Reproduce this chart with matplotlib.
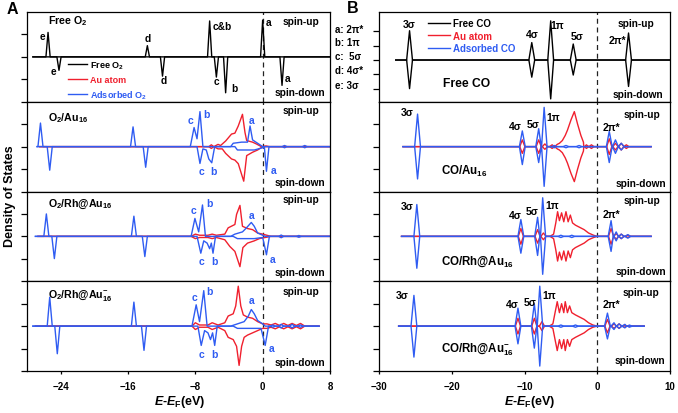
import matplotlib
matplotlib.use('Agg')
import matplotlib.pyplot as plt
from matplotlib.lines import Line2D

plt.rcParams['font.family'] = ['Liberation Sans', 'DejaVu Sans']
plt.rcParams['font.weight'] = 'bold'
plt.rcParams['mathtext.fontset'] = 'custom'
plt.rcParams['mathtext.rm'] = 'Liberation Sans:bold'
plt.rcParams['mathtext.it'] = 'Liberation Sans:italic:bold'
plt.rcParams['mathtext.bf'] = 'Liberation Sans:bold'
plt.rcParams['mathtext.default'] = 'regular'

BLUE = '#2f5cf2'
RED = '#f0202e'

# ---------- A : O2 ----------  sharp peaks as (E, DOS), valence band as points
o2_free_up = [(-25.5, 1.09), (-13.7, 0.5), (-6.3, 1.6), (0.0, 1.64)]
o2_free_dn = [(-24.2, -0.6), (-11.9, -0.86), (-5.5, -0.9), (-4.4, -1.6), (2.3, -1.27)]

# O2/Au16
a2_blue_up_pk = [(-26.4, 1.05), (-15.4, 0.88), (2.6, 0.05), (5.0, 0.05)]
a2_blue_up = [(-8.6, 0), (-8.15, 0.85), (-7.8, 0.35), (-7.45, 1.56), (-7.1, 0), (-3.8, 0), (-3.5, 0.15),
              (-2.5, 0.2), (-1.8, 0.2), (-1.5, 0.92), (-1.2, 0.3), (-0.6, 0.15), (0.0, 0)]
a2_blue_dn_pk = [(-25.3, -1.05), (-13.9, -0.92), (2.6, -0.05), (5.0, -0.05)]
a2_blue_dn = [(-7.8, 0), (-7.45, -0.75), (-7.1, -0.1), (-6.7, -0.15), (-6.4, -0.55), (-6.05, -0.72),
              (-5.7, 0), (-3.3, 0), (-3.0, -0.15), (-1.0, -0.15), (0.0, -0.05), (0.2, 0), (0.45, -1.1), (0.75, 0)]
a2_red_up = [(-6.4, 0), (-6.1, 0.08), (-5.8, 0), (-5.3, 0.1), (-5.0, 0.05), (-4.4, 0.25), (-3.7, 0.56),
             (-3.3, 0.6), (-2.9, 0.92), (-2.4, 1.44), (-2.1, 0.63), (-1.9, 0.27), (-1.2, 0.2), (-0.75, 0.12),
             (-0.15, 0), (0.4, 0.03), (0.8, 0)]
a2_red_dn = [(-6.4, 0), (-6.1, -0.08), (-5.8, 0), (-5.3, -0.1), (-4.8, -0.1), (-4.4, -0.3), (-3.7, -0.55),
             (-3.3, -0.6), (-2.9, -0.76), (-2.25, -1.54), (-1.9, -0.4), (-1.2, -0.25), (-0.6, -0.15), (0.0, 0)]

# O2/Rh@Au16
a3_blue_up_pk = [(-25.7, 1.0), (-15.3, 0.9), (2.2, 0.06), (4.3, 0.04)]
a3_blue_up = [(-8.5, 0), (-8.05, 0.8), (-7.6, 0.2), (-7.15, 1.4), (-6.8, 0), (-3.8, 0), (-3.3, 0.1),
              (-2.4, 0.2), (-2.0, 0.35), (-1.35, 0.62), (-1.0, 0.45), (-0.6, 0.15), (0.0, 0.05), (0.3, 0)]
a3_blue_dn_pk = [(-24.75, -0.99), (-14.0, -0.9), (2.2, -0.06), (4.3, -0.04)]
a3_blue_dn = [(-7.8, 0), (-7.35, -0.75), (-7.0, -0.2), (-6.6, -0.3), (-6.3, -0.55), (-6.1, -0.3),
              (-5.9, -0.75), (-5.6, 0), (-3.5, 0), (-3.0, -0.1), (-1.0, -0.1), (0.0, -0.05), (0.15, -0.3),
              (0.45, -0.82), (0.8, 0)]
a3_red_up = [(-8.5, 0), (-8.0, 0.1), (-7.5, 0.05), (-6.5, 0.05), (-6.0, 0.1), (-5.5, 0.05), (-4.5, 0.1),
             (-4.1, 0.38), (-3.3, 0.53), (-3.1, 0.98), (-2.7, 1.38), (-2.4, 0.45), (-1.8, 0.35), (-1.2, 0.3),
             (-0.6, 0.15), (0.0, 0.1), (0.5, 0.05), (1.0, 0)]
a3_red_dn = [(-8.5, 0), (-8.0, -0.1), (-7.5, -0.05), (-6.5, -0.05), (-6.0, -0.1), (-5.5, -0.05), (-4.5, -0.15),
             (-3.9, -0.45), (-3.3, -0.67), (-2.7, -1.35), (-2.35, -0.5), (-1.8, -0.3), (-1.0, -0.2),
             (-0.4, -0.1), (0.3, -0.05), (1.0, 0)]

# O2/Rh@Au16-
a4_blue_up_pk = [(-25.3, 1.29), (-15.3, 1.07), (1.2, 0.05), (2.2, 0.08), (3.5, 0.08), (4.5, 0.05)]
a4_blue_up = [(-8.4, 0), (-7.9, 0.95), (-7.5, 0.2), (-7.0, 1.58), (-6.6, 0), (-3.8, 0), (-3.0, 0.1),
              (-2.2, 0.2), (-1.7, 0.45), (-1.35, 0.74), (-1.0, 0.55), (-0.6, 0.25), (0.0, 0.1), (0.3, 0)]
a4_blue_dn_pk = [(-24.4, -1.23), (-14.1, -1.08), (1.2, -0.05), (2.2, -0.08), (3.5, -0.08), (4.5, -0.05)]
a4_blue_dn = [(-7.7, 0), (-7.3, -0.86), (-6.9, -0.2), (-6.5, -0.3), (-6.2, -0.6), (-5.95, -0.3),
              (-5.7, -0.86), (-5.4, 0), (-3.5, 0), (-3.0, -0.1), (-1.0, -0.1), (-0.2, -0.1), (0.0, -0.4),
              (0.3, -0.86), (0.7, 0)]
a4_red_up = [(-8.4, 0), (-8.0, 0.15), (-7.5, 0.05), (-6.5, 0.05), (-6.0, 0.15), (-5.3, 0.05), (-4.5, 0.15),
             (-4.1, 0.45), (-3.5, 0.55), (-3.2, 0.9), (-2.9, 1.78), (-2.6, 0.9), (-2.3, 0.5), (-1.8, 0.4),
             (-1.2, 0.35), (-0.6, 0.2), (0.0, 0.1), (0.5, 0.1), (1.0, 0.05), (1.5, 0.12), (2.0, 0.03),
             (2.5, 0.12), (3.0, 0.03), (3.5, 0.12), (4.0, 0.03), (4.5, 0.12), (5.0, 0)]
a4_red_dn = [(-8.4, 0), (-8.0, -0.15), (-7.5, -0.05), (-6.5, -0.05), (-6.0, -0.15), (-5.3, -0.05), (-4.5, -0.2),
             (-4.1, -0.5), (-3.5, -0.6), (-3.1, -0.9), (-2.8, -1.75), (-2.5, -0.9), (-2.2, -0.5), (-1.8, -0.4),
             (-1.2, -0.3), (-0.6, -0.2), (0.0, -0.1), (0.5, -0.1), (1.0, -0.05), (1.5, -0.12), (2.0, -0.03),
             (2.5, -0.12), (3.0, -0.03), (3.5, -0.12), (4.0, -0.03), (4.5, -0.12), (5.0, 0)]

# ---------- B : CO ----------  peaks as (E, spin-up, spin-down)
co_free = [(-25.8, 2.05, -2.0), (-9.0, 1.22, -1.2), (-6.4, 2.74, -2.72), (-3.3, 1.12, -1.05), (4.3, 1.89, -1.85)]

b2_blue = [(-24.7, 1.45, -1.44), (-10.3, 0.7, -0.8), (-8.05, 0.8, -0.71), (-7.3, 1.75, -1.77),
           (-5.9, 0.05, -0.05), (-4.3, 0.05, -0.05), (-2.5, 0.05, -0.05),
           (1.65, 0.68, -0.71), (2.5, 0.3, -0.3), (3.3, 0.15, -0.15)]
b2_red = [(-10.3, 0.3, -0.3), (-8.05, 0.3, -0.3), (-7.2, 0.12, -0.12), (-6.2, 0.08, -0.08),
          (-1.5, 0.08, -0.08), (-0.8, 0.08, -0.08),
          (1.65, 0.35, -0.35), (2.5, 0.15, -0.15), (3.3, 0.15, -0.15), (4.0, 0.08, -0.08)]
b2_red_band = [(-5.9, 0), (-5.5, 0.1), (-5.2, 0.15), (-4.8, 0.27), (-4.4, 0.5), (-4.1, 0.73), (-3.6, 1.2),
               (-3.15, 1.56), (-2.7, 1.0), (-2.25, 0.5), (-1.9, 0.2), (-1.7, 0)]

b3_blue = [(-24.8, 1.42, -1.42), (-10.5, 0.75, -0.75), (-8.2, 0.85, -0.85), (-7.5, 1.72, -1.69),
           (-5.0, 0.05, -0.05), (-3.5, 0.05, -0.05),
           (1.9, 0.7, -0.67), (2.6, 0.2, -0.2), (3.3, 0.1, -0.1), (4.2, 0.08, -0.08)]
b3_red = [(-10.5, 0.35, -0.35), (-8.2, 0.3, -0.3), (-7.4, 0.15, -0.15),
          (1.9, 0.35, -0.35), (2.6, 0.12, -0.12), (3.3, 0.1, -0.1), (4.2, 0.05, -0.05)]
b3_red_band = [(-6.5, 0), (-6.0, 0.1), (-5.7, 0.6), (-5.45, 1.1), (-5.2, 0.7), (-4.9, 1.05), (-4.6, 0.65),
               (-4.3, 1.1), (-4.0, 0.65), (-3.7, 0.95), (-3.4, 0.6), (-3.0, 0.5), (-2.4, 0.4), (-1.8, 0.3),
               (-1.2, 0.15), (-0.5, 0.05), (0.0, 0)]

b4_blue = [(-25.2, 1.37, -1.38), (-10.9, 0.8, -0.79), (-8.65, 0.99, -0.98), (-7.9, 1.78, -1.78),
           (-5.0, 0.05, -0.05), (-3.0, 0.05, -0.05),
           (1.4, 0.58, -0.57), (2.3, 0.15, -0.15), (3.0, 0.1, -0.1), (3.8, 0.08, -0.08), (4.4, 0.05, -0.05)]
b4_red = [(-10.9, 0.35, -0.35), (-8.65, 0.35, -0.35), (-7.6, 0.2, -0.2),
          (1.4, 0.3, -0.3), (2.3, 0.1, -0.1), (3.0, 0.1, -0.1), (3.8, 0.05, -0.05)]
b4_red_band = [(-6.6, 0), (-6.1, 0.1), (-5.8, 0.6), (-5.5, 1.09), (-5.2, 0.6), (-4.9, 1.0), (-4.6, 0.6),
               (-4.4, 1.09), (-4.1, 0.6), (-3.8, 0.9), (-3.5, 0.6), (-3.0, 0.5), (-2.4, 0.4), (-1.8, 0.3),
               (-1.2, 0.15), (-0.6, 0.05), (0.0, 0)]


def trace(x0, x1, w, peaks=(), pts=()):
    p = [(x0, 0.0), (x1, 0.0)] + [tuple(t) for t in pts]
    for c, h in peaks:
        p += [(c - w, 0.0), (c, h), (c + w, 0.0)]
    p.sort(key=lambda t: t[0])
    return [t[0] for t in p], [t[1] for t in p]


W, H = 678, 414
fig = plt.figure(figsize=(W / 100, H / 100), dpi=100)
PH = 89.75


def panel(col, row, ylim=(-2, 2), yt=(-2, -1, 0, 1)):
    left, width = (27, 303) if col == 0 else (379, 291)
    top = 13 + PH * row
    ax = fig.add_axes([left / W, 1 - (top + PH) / H, width / W, PH / H])
    ax.set_ylim(*ylim)
    ax.set_yticks(yt)
    ax.set_yticklabels([])
    if col == 0:
        ax.set_xlim(-28, 8)
        ax.set_xticks([-24, -16, -8, 0, 8])
    else:
        ax.set_xlim(-30, 10)
        ax.set_xticks([-30, -20, -10, 0, 10])
    ax.tick_params(axis='y', direction='out', length=4, width=0.9)
    ax.tick_params(axis='x', direction='out', length=2, width=0.9, labelsize=7, pad=5)
    if row < 3:
        ax.tick_params(axis='x', length=0, labelbottom=False)
    for s in ax.spines.values():
        s.set_linewidth(0.9)
    ax.axvline(0, color='#222222', lw=0.9, ls=(0, (4, 3)), zorder=1)
    return ax


def txt(ax, x, y, s, c='k', fs=7.3, ha='center'):
    ax.text(x, y, s, color=c, fontsize=fs, ha=ha, va='center', fontweight='bold')


LW = 1.0

# ---- A panels ----
ax = panel(0, 0)
ax.plot(*trace(-27.3, 8, 0.25, o2_free_up), color='k', lw=LW)
ax.plot(*trace(-27.3, 8, 0.25, o2_free_dn), color='k', lw=LW)
txt(ax, -25.5, 1.64, 'Free O$_2$', fs=7.7, ha='left')
for x, y, s in [(-26.2, 0.93, 'e'), (-24.9, -0.63, 'e'), (-13.6, 0.84, 'd'), (-11.8, -1.03, 'd'),
                (-4.85, 1.38, 'c&b'), (-5.55, -1.07, 'c'), (-3.4, -1.39, 'b'), (0.7, 1.56, 'a'),
                (2.95, -0.94, 'a')]:
    txt(ax, x, y, s, fs=7.3)
txt(ax, 4.6, 1.6, 'spin-up')
txt(ax, 4.4, -1.56, 'spin-down')
hs = [Line2D([], [], color=c, lw=LW) for c in ['k', RED, BLUE]]
ax.legend(hs, ['Free O$_2$', 'Au atom', 'Adsorbed O$_2$'], loc='upper left',
          bbox_to_anchor=(68 / W, 1 - 60 / H), bbox_transform=fig.transFigure, frameon=False,
          fontsize=6.5, handlelength=2.1, handletextpad=0.3, labelspacing=0.5, borderpad=0,
          borderaxespad=0, labelcolor=['k', RED, BLUE])

a_sets = [
    (a2_blue_up_pk, a2_blue_up, a2_blue_dn_pk, a2_blue_dn, a2_red_up, a2_red_dn, -26.8, 8.0),
    (a3_blue_up_pk, a3_blue_up, a3_blue_dn_pk, a3_blue_dn, a3_red_up, a3_red_dn, -27.0, 8.0),
    (a4_blue_up_pk, a4_blue_up, a4_blue_dn_pk, a4_blue_dn, a4_red_up, a4_red_dn, -27.3, 6.7),
]
a_names = ['O$_2$/Au$_{16}$', 'O$_2$/Rh@Au$_{16}$', 'O$_2$/Rh@Au$_{16}^{-}$']
a_tags = [
    [(-8.54, 1.2, 'c'), (-6.65, 1.45, 'b'), (-7.32, -1.07, 'c'), (-5.87, -1.07, 'b'), (-1.26, 1.19, 'a'),
     (1.3, -1.03, 'a')],
    [(-8.23, 1.19, 'c'), (-6.34, 1.49, 'b'), (-7.32, -1.08, 'c'), (-5.75, -1.08, 'b'), (-1.26, 0.95, 'a'),
     (1.15, -1.0, 'a')],
    [(-8.1, 1.28, 'c'), (-6.34, 1.58, 'b'), (-7.32, -1.24, 'c'), (-5.67, -1.24, 'b'), (-1.26, 1.18, 'a'),
     (1.03, -0.99, 'a')],
]
a_name_y = [1.31, 1.49, 1.43]
a_spin_y = [(1.64, -1.56), (1.67, -1.57), (1.58, -1.59)]
for i, (bup_pk, bup, bdn_pk, bdn, rup, rdn, x0, x1) in enumerate(a_sets):
    ax = panel(0, i + 1)
    ax.plot(*trace(x0 + 0.3, x1, 0.3, pts=rup), color=RED, lw=LW)
    ax.plot(*trace(x0 + 0.3, x1, 0.3, pts=rdn), color=RED, lw=LW)
    ax.plot(*trace(x0, x1, 0.3, bup_pk, bup), color=BLUE, lw=LW)
    ax.plot(*trace(x0, x1, 0.3, bdn_pk, bdn), color=BLUE, lw=LW)
    txt(ax, -25.5, a_name_y[i], a_names[i], fs=7.7, ha='left')
    for x, y, s in a_tags[i]:
        txt(ax, x, y, s, c=BLUE, fs=7.5)
    txt(ax, 4.5, a_spin_y[i][0], 'spin-up')
    txt(ax, 4.4, a_spin_y[i][1], 'spin-down')

# ---- B panels ----
# free CO panel has its own, finer DOS scale
ax = panel(1, 0, ylim=(-2.92, 3.36), yt=(-2, -1, 0, 1, 2))
ax.plot(*trace(-27.7, 10, 0.4, [(e, u) for e, u, d in co_free]), color='k', lw=LW)
ax.plot(*trace(-27.7, 10, 0.4, [(e, d) for e, u, d in co_free]), color='k', lw=LW)
for x, y, s in [(-25.8, 2.52, '3σ'), (-8.9, 1.82, '4σ'), (-5.5, 2.45, '1π'), (-2.75, 1.68, '5σ'),
                (2.75, 1.4, '2π*')]:
    txt(ax, x, y, s, fs=7.5)
txt(ax, 5.36, 2.59, 'spin-up')
txt(ax, 5.6, -2.38, 'spin-down')
txt(ax, -18.0, -1.61, 'Free CO', fs=8.7)
ax.legend(hs, ['Free CO', 'Au atom', 'Adsorbed CO'], loc='upper left',
          bbox_to_anchor=(428 / W, 1 - 19 / H), bbox_transform=fig.transFigure, frameon=False,
          fontsize=7, handlelength=2.3, handletextpad=0.25, labelspacing=0.28, borderpad=0,
          borderaxespad=0, labelcolor=['k', RED, BLUE])

b_sets = [(b2_blue, b2_red, b2_red_band, -26.7, 7.4),
          (b3_blue, b3_red, b3_red_band, -26.9, 7.4),
          (b4_blue, b4_red, b4_red_band, -27.3, 6.45)]
b_names = ['CO/Au$_{16}$', 'CO/Rh@Au$_{16}$', 'CO/Rh@Au$_{16}^{-}$']
b_tags = [
    [(-26.1, 1.53, '3σ'), (-11.2, 0.93, '4σ'), (-8.75, 1.0, '5σ'), (-6.0, 1.3, '1π'), (2.0, 0.86, '2π*')],
    [(-26.1, 1.35, '3σ'), (-11.3, 0.96, '4σ'), (-8.9, 1.11, '5σ'), (-6.15, 1.4, '1π'), (1.9, 1.0, '2π*')],
    [(-26.8, 1.39, '3σ'), (-11.7, 0.98, '4σ'), (-9.2, 1.08, '5σ'), (-6.6, 1.39, '1π'), (2.0, 0.98, '2π*')],
]
b_name_pos = [(-18.3, -1.07), (-16.5, -1.08), (-16.5, -1.02)]
b_spin = [(6.2, 1.46, 6.0, -1.6), (6.2, 1.6, 6.0, -1.53), (6.0, 1.5, 5.8, -1.49)]
for i, (blue, red, band, x0, x1) in enumerate(b_sets):
    ax = panel(1, i + 1)
    ax.plot(*trace(x0, x1, 0.35, [(e, u) for e, u, d in red], band), color=RED, lw=LW)
    ax.plot(*trace(x0, x1, 0.35, [(e, d) for e, u, d in red], [(e, -v) for e, v in band]), color=RED, lw=LW)
    ax.plot(*trace(x0, x1, 0.4, [(e, u) for e, u, d in blue]), color=BLUE, lw=LW)
    ax.plot(*trace(x0, x1, 0.4, [(e, d) for e, u, d in blue]), color=BLUE, lw=LW)
    for x, y, s in b_tags[i]:
        txt(ax, x, y, s, fs=7.5)
    txt(ax, b_name_pos[i][0], b_name_pos[i][1], b_names[i], fs=8.3)
    txt(ax, b_spin[i][0], b_spin[i][1], 'spin-up')
    txt(ax, b_spin[i][2], b_spin[i][3], 'spin-down')

# ---- figure texts ----
fig.text(7 / W, 1 - 2 / H, 'A', fontsize=11.5, fontweight='bold', va='top')
fig.text(347 / W, 1 - 1 / H, 'B', fontsize=11.5, fontweight='bold', va='top')
fig.text(10 / W, 1 - 196 / H, 'Density of States', rotation=90, fontsize=9, fontweight='bold',
         ha='center', va='center')
xlab = r'$\mathit{E}$-$\mathit{E}_{\mathrm{F}}$(eV)'
fig.text(180 / W, 1 - 402 / H, xlab, fontsize=9, ha='center', va='center')
fig.text(530 / W, 1 - 402 / H, xlab, fontsize=9, ha='center', va='center')
for y, s in [(30, 'a: 2π*'), (43, 'b: 1π'), (57, 'c:  5σ'), (71, 'd: 4σ*'), (86, 'e: 3σ')]:
    fig.text(335 / W, 1 - y / H, s, fontsize=7, fontweight='bold', va='center')

fig.savefig('out.png', dpi=100)
